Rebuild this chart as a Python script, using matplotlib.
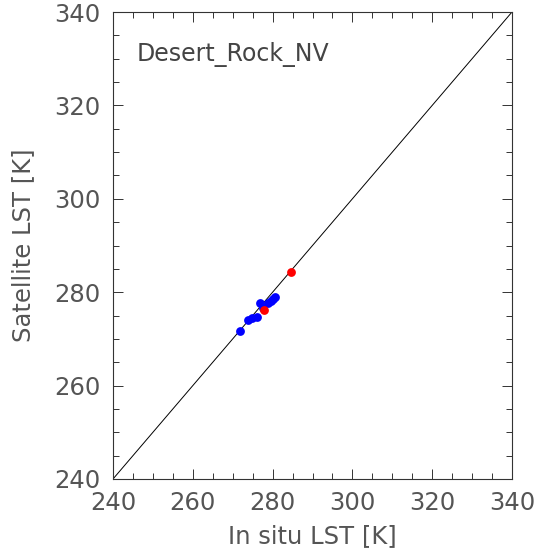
import matplotlib
matplotlib.use("Agg")
import matplotlib.pyplot as plt
import numpy as np

# in situ vs satellite LST
blue_x = [271.8, 273.8, 274.8, 276.0, 276.8, 277.5, 278.8, 279.5, 280.0, 280.5]
blue_y = [271.7, 274.0, 274.5, 274.7, 277.7, 276.6, 277.7, 278.2, 278.6, 279.0]
red_x = [277.8, 284.7]
red_y = [276.2, 284.3]
site = "Desert_Rock_NV"

plt.rcParams['font.family'] = ['DejaVu Sans']
fig = plt.figure(figsize=(5.4, 5.53), dpi=100)
ax = fig.add_axes([113/540, 1 - 479/553, 399/540, 467/553])

ax.plot([240, 340], [240, 340], color='black', lw=0.7)
ax.scatter(blue_x, blue_y, s=40, color='#0000ff', zorder=3, linewidths=0)
ax.scatter(red_x, red_y, s=40, color='#ff0000', zorder=3, linewidths=0)

ax.set_xlim(240, 340)
ax.set_ylim(240, 340)
ax.set_xticks(np.arange(240, 341, 20))
ax.set_yticks(np.arange(240, 341, 20))
ax.set_xticks(np.arange(240, 341, 5), minor=True)
ax.set_yticks(np.arange(240, 341, 5), minor=True)
ax.tick_params(which='both', direction='in', top=True, right=True,
               colors='#333333', labelcolor='#555555', labelsize=17.5, width=0.7)
ax.tick_params(which='major', length=7, pad=9)
ax.tick_params(which='minor', length=4)
for s in ax.spines.values():
    s.set_linewidth(0.8)
    s.set_color('#333333')

ax.set_xlabel('In situ LST [K]', fontsize=17.5, color='#555555', labelpad=6)
ax.set_ylabel('Satellite LST [K]', fontsize=17.5, color='#555555', labelpad=14)
ax.text(0.06, 0.935, site, transform=ax.transAxes, fontsize=17,
        color='#444444', va='top', ha='left')

fig.savefig('out.png', dpi=100)
